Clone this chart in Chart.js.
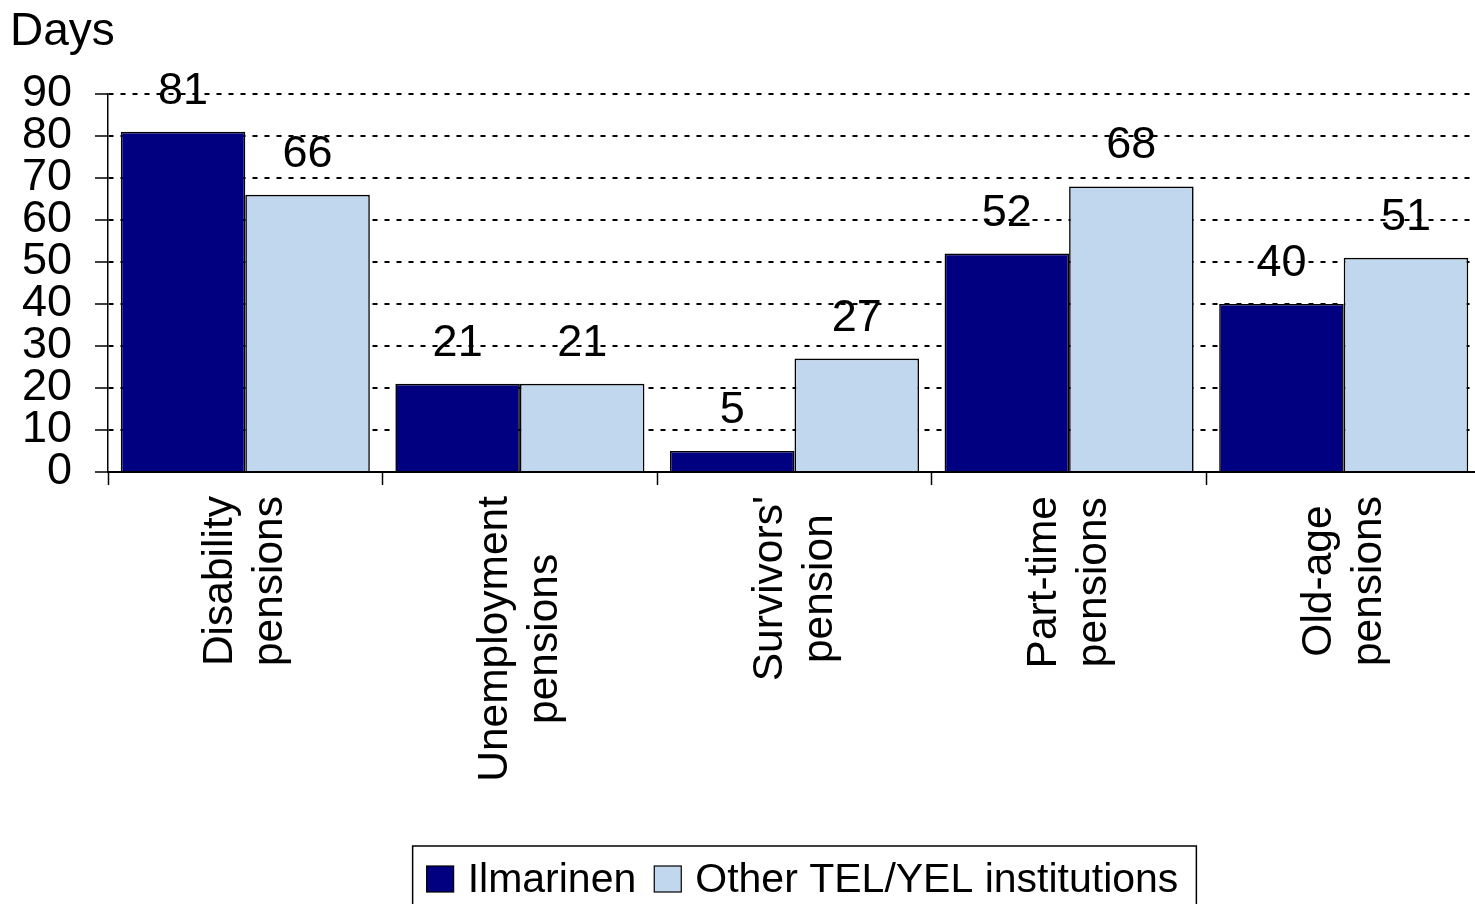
<!DOCTYPE html>
<html>
<head>
<meta charset="utf-8">
<script src="https://cdn.jsdelivr.net/npm/chart.js@4.4.0/dist/chart.umd.min.js"></script>
<style>
  html, body { margin: 0; padding: 0; overflow: hidden; background: #ffffff; width: 1475px; height: 904px; }
  canvas { display: block; }
</style>
</head>
<body>
<canvas id="chart" width="1490" height="904"></canvas>
<script>
// ---- Data ----
const categories = [
  ["Disability", "pensions"],
  ["Unemployment", "pensions"],
  ["Survivors'", "pension"],
  ["Part-time", "pensions"],
  ["Old-age", "pensions"]
];
const seriesNames = ["Ilmarinen", "Other TEL/YEL institutions"];
const ilmarinen = [81, 21, 5, 52, 40];
const otherInstitutions = [66, 21, 27, 68, 51];
const yMin = 0;
const yMax = 90;
const yStep = 10;
const yAxisTitle = "Days";

// ---- Styling ----
const FONT = '"Liberation Sans", Arial, Helvetica, sans-serif';
const DARK = '#000080';
const LIGHT = '#C0D7EE';
Chart.defaults.font.family = FONT;
Chart.defaults.color = '#000';

// Data labels above bars
const valueLabels = {
  id: 'valueLabels',
  afterDatasetsDraw(chart) {
    const ctx = chart.ctx;
    ctx.save();
    ctx.font = '45px ' + FONT;
    ctx.fillStyle = '#000';
    ctx.textAlign = 'center';
    ctx.textBaseline = 'alphabetic';
    chart.data.datasets.forEach((ds, di) => {
      const meta = chart.getDatasetMeta(di);
      meta.data.forEach((el, i) => {
        ctx.fillText(String(ds.data[i]), el.x, el.y - 28);
      });
    });
    ctx.restore();
  }
};

// Rotated, centred two-line category labels
const categoryLabels = {
  id: 'categoryLabels',
  afterDraw(chart) {
    const ctx = chart.ctx;
    const xs = chart.scales.x;
    ctx.save();
    ctx.font = '42.5px ' + FONT;
    ctx.fillStyle = '#000';
    ctx.textAlign = 'center';
    ctx.textBaseline = 'alphabetic';
    chart.data.labels.forEach((lines, i) => {
      const cx = xs.getPixelForValue(i);
      const w = Math.max(...lines.map(l => ctx.measureText(l).width));
      const top = xs.top + 24;
      ctx.save();
      ctx.translate(cx, top + w / 2);
      ctx.rotate(-Math.PI / 2);
      lines.forEach((l, j) => ctx.fillText(l, 0, -13 + j * 50));
      ctx.restore();
    });
    ctx.restore();
  }
};

// Boxed legend
const boxedLegend = {
  id: 'boxedLegend',
  afterDraw(chart) {
    const ctx = chart.ctx;
    const area = chart.chartArea;
    ctx.save();
    ctx.font = '41px ' + FONT;
    const sq = 27, gapText = 14, gapItem = 18, padL = 14, padR = 18;
    const items = chart.data.datasets.map(ds => ({
      label: ds.label, color: ds.backgroundColor, w: ctx.measureText(ds.label).width
    }));
    let total = padL + padR;
    items.forEach((it, k) => { total += sq + gapText + it.w + (k < items.length - 1 ? gapItem : 0); });
    const cx = (area.left + area.right) / 2 + 10;
    const left = cx - total / 2;
    const top = area.bottom + 374;
    ctx.lineWidth = 1.5;
    ctx.strokeStyle = '#000';
    ctx.strokeRect(left, top, total, 80);
    let x = left + padL;
    ctx.textAlign = 'left';
    ctx.textBaseline = 'alphabetic';
    items.forEach(it => {
      ctx.fillStyle = it.color;
      ctx.fillRect(x, top + 20, sq, sq - 1);
      ctx.lineWidth = 1.2;
      ctx.strokeRect(x, top + 20, sq, sq - 1);
      ctx.fillStyle = '#000';
      ctx.fillText(it.label, x + sq + gapText, top + 46);
      x += sq + gapText + it.w + gapItem;
    });
    ctx.restore();
  }
};

new Chart(document.getElementById('chart'), {
  type: 'bar',
  data: {
    labels: categories,
    datasets: [
      { label: seriesNames[0], data: ilmarinen, backgroundColor: DARK, borderColor: '#000', borderWidth: 1.6 },
      { label: seriesNames[1], data: otherInstitutions, backgroundColor: LIGHT, borderColor: '#000', borderWidth: 1.6 }
    ]
  },
  options: {
    responsive: false,
    animation: false,
    datasets: { bar: { categoryPercentage: 0.907, barPercentage: 1.0 } },
    layout: { padding: { left: 10, right: 9, top: 0, bottom: 0 } },
    plugins: {
      legend: { display: false },
      tooltip: { enabled: false },
      title: {
        display: true,
        text: yAxisTitle,
        align: 'start',
        color: '#000',
        font: { size: 46, weight: 'normal', lineHeight: 1.2 },
        padding: { top: 4.4, bottom: 34.4 }
      }
    },
    scales: {
      x: {
        ticks: { display: false },
        grid: {
          display: true, drawOnChartArea: false, drawTicks: true, offset: true,
          tickLength: 13, color: '#000', tickColor: '#000', tickWidth: 1.5
        },
        border: { display: true, color: '#000', width: 2 },
        afterFit(scale) { scale.height = 432; }
      },
      y: {
        min: yMin,
        max: yMax,
        ticks: {
          stepSize: yStep, autoSkip: false, padding: 23, color: '#000',
          font: { size: 45, lineHeight: 1.2 }
        },
        grid: {
          color: '#000', lineWidth: 2, tickLength: 13, tickColor: '#000',
          tickWidth: 1.5, tickBorderDash: [1, 0]
        },
        border: { display: true, color: '#000', width: 1.5, dash: [5, 7] },
        afterFit(scale) { scale.width = 98; }
      }
    }
  },
  plugins: [valueLabels, categoryLabels, boxedLegend]
});
</script>
</body>
</html>
